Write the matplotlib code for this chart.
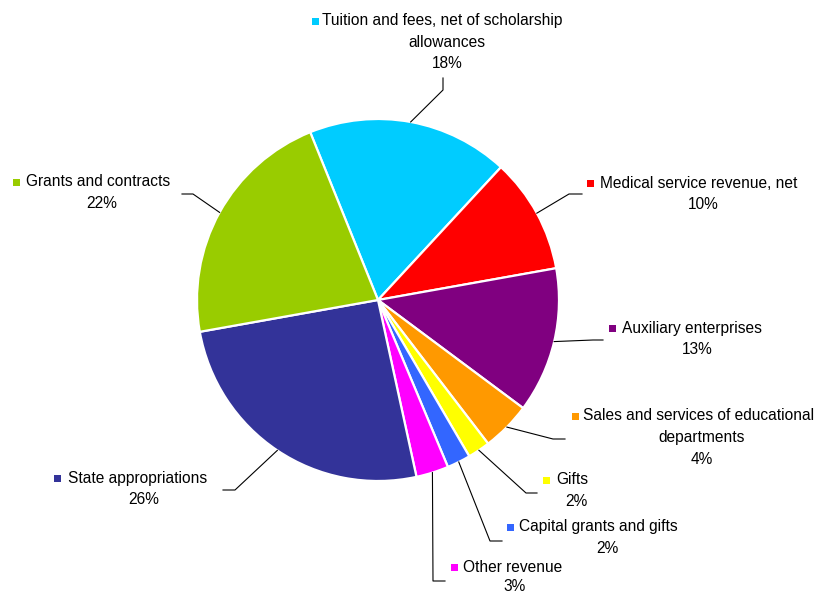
import numpy as np
import matplotlib
matplotlib.use("Agg")
import matplotlib.pyplot as plt

# ---- data ----
categories = [
    "Tuition and fees, net of scholarship allowances",
    "Medical service revenue, net",
    "Auxiliary enterprises",
    "Sales and services of educational departments",
    "Gifts",
    "Capital grants and gifts",
    "Other revenue",
    "State appropriations",
    "Grants and contracts",
]
values = [18.0, 10.3, 13.0, 4.4, 2.0, 2.1, 2.9, 25.6, 21.7]
colors = ["#00CCFF", "#FF0000", "#800080", "#FF9900", "#FFFF00",
          "#3366FF", "#FF00FF", "#333399", "#99CC00"]

# label text lines (first line gets the colour marker)
label_lines = [
    ["Tuition and fees, net of scholarship", "allowances"],
    ["Medical service revenue, net"],
    ["Auxiliary enterprises"],
    ["Sales and services of educational", "departments"],
    ["Gifts"],
    ["Capital grants and gifts"],
    ["Other revenue"],
    ["State appropriations"],
    ["Grants and contracts"],
]

# ---- layout (pixel coordinates, y measured from top) ----
W, H = 819, 595
CX, CY, R = 378, 300, 181
# marker x, first line y, text start x, centre x of following lines, line height
label_layout = [
    (312, 21, 322, 447, 21.5),
    (587, 183, 600, 703, 21.5),
    (609, 328, 622, 697, 21.5),
    (572, 416, 583, 702, 21.5),
    (543, 480, 556, 576, 21.5),
    (507, 527, 519, 607, 21.5),
    (451, 567, 463, 515, 19.5),
    (54, 478, 68, 144, 21.5),
    (13, 182, 26, 102, 21.5),
]
# leader elbow points (after the point on the arc)
leader_pts = [
    [(443, 90), (443, 78)],
    [(569, 194), (582, 194)],
    [(593, 340), (603, 340)],
    [(553, 439), (565, 439)],
    [(526, 493), (537, 493)],
    [(490, 541), (502, 541)],
    [(433, 581), (445, 581)],
    [(235, 490), (223, 490)],
    [(193, 194), (182, 194)],
]

plt.rcParams['font.family'] = ['Liberation Sans', 'DejaVu Sans']

fig = plt.figure(figsize=(W / 100, H / 100), dpi=100)
ax = fig.add_axes([0, 0, 1, 1])

def Y(y):
    return H - y

wedges, _ = ax.pie(values, colors=colors, startangle=112, counterclock=False,
                   radius=R, center=(CX, Y(CY)),
                   wedgeprops=dict(edgecolor="white", linewidth=1.6))
ax.set_xlim(0, W)
ax.set_ylim(0, H)
ax.set_aspect("equal")
ax.axis("off")

total = sum(values)
fs = 11.2
for i, w in enumerate(wedges):
    pct = f"{round(values[i] / total * 100):d}%"
    mx, y1, tx, cx, lh = label_layout[i]
    # marker
    ax.add_patch(plt.Rectangle((mx, Y(y1) - 3.5), 7, 7, color=colors[i], lw=0))
    lines = label_lines[i]
    ax.text(tx, Y(y1), lines[0], ha="left", va="center", fontsize=fs, color="black")
    y = y1
    for ln in lines[1:]:
        y += lh
        ax.text(cx, Y(y), ln, ha="center", va="center", fontsize=fs, color="black")
    y += lh
    ax.text(cx, Y(y), pct, ha="center", va="center", fontsize=fs, color="black")
    # leader line from arc midpoint
    mid = np.deg2rad((w.theta1 + w.theta2) / 2)
    px = CX + R * np.cos(mid)
    py = Y(CY) + R * np.sin(mid)
    xs = [px] + [p[0] for p in leader_pts[i]]
    ys = [py] + [Y(p[1]) for p in leader_pts[i]]
    ax.plot(xs, ys, color="black", lw=0.8)

fig.savefig("out.png", dpi=100)
